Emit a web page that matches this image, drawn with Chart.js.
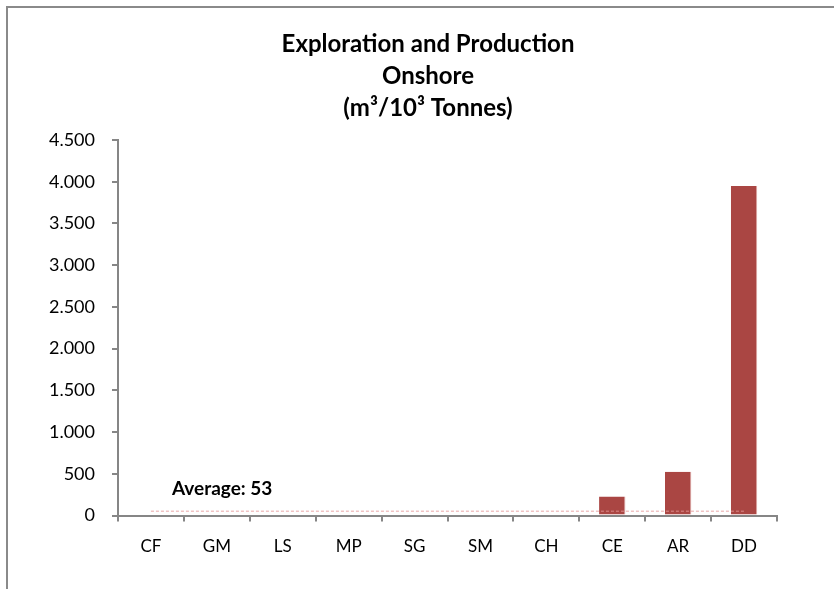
<!DOCTYPE html>
<html>
<head>
<meta charset="utf-8">
<script src="https://cdn.jsdelivr.net/npm/chart.js@4"></script>
<style>
  html, body { margin: 0; padding: 0; background: #fff; overflow: hidden; }
  #frame { position: absolute; left: 6px; top: 6px; width: 900px; height: 700px; border: 2px solid #8a8a8a; }
  #chart { position: absolute; left: 0; top: 0; }
</style>
</head>
<body>
<div id="frame"></div>
<canvas id="chart" width="834" height="589"></canvas>
<script>
// Onshore exploration & production, m3 per 10^3 tonnes
const categories = ['CF', 'GM', 'LS', 'MP', 'SG', 'SM', 'CH', 'CE', 'AR', 'DD'];
const values = [0, 0, 0, 0, 0, 0, 0, 230, 525, 3950];
const averageValue = 53;
const averageLabel = 'Average: ' + averageValue;
const titleLines = ['Exploration and Production', 'Onshore', '(m\u00B3/10\u00B3 Tonnes)'];
const yMin = 0, yMax = 4500, yStep = 500;

const FONT = 'Lato';
const AXIS_GREY = '#868686';

function thousands(v) {
  return String(v).replace(/\B(?=(\d{3})+(?!\d))/g, '.');
}

// writes the "Average: 53" note just above the average line
const averageNote = {
  id: 'averageNote',
  afterDatasetsDraw(chart) {
    const xs = chart.scales.x, ys = chart.scales.y;
    const ctx = chart.ctx;
    ctx.save();
    ctx.font = 'bold 19px ' + FONT;
    ctx.fillStyle = '#000';
    ctx.textAlign = 'left';
    ctx.textBaseline = 'middle';
    ctx.fillText(averageLabel, xs.getPixelForValue(0) + 21, ys.getPixelForValue(averageValue) - 22);
    ctx.restore();
  }
};

Chart.defaults.font.family = FONT;
Chart.defaults.color = '#000';

new Chart(document.getElementById('chart'), {
  data: {
    labels: categories,
    datasets: [
      {
        type: 'line',
        data: categories.map(() => averageValue),
        borderColor: 'rgba(228,150,150,0.85)',
        borderWidth: 1,
        borderDash: [3, 2],
        pointRadius: 0,
        fill: false,
        order: 0
      },
      {
        type: 'bar',
        data: values,
        backgroundColor: '#AA4643',
        borderColor: '#dca6a4',
        borderWidth: { top: 0, right: 1, bottom: 0, left: 0 },
        borderSkipped: false,
        barPercentage: 0.4,
        categoryPercentage: 1.0,
        order: 1
      }
    ]
  },
  options: {
    responsive: false,
    animation: false,
    devicePixelRatio: 1,
    layout: { padding: { left: 40, right: 18, top: 18, bottom: 17 } },
    plugins: {
      legend: { display: false },
      tooltip: { enabled: false },
      title: {
        display: true,
        text: titleLines,
        color: '#000',
        font: { family: FONT, size: 24, weight: 'bold', lineHeight: 1.333 },
        padding: { top: 10, bottom: 16 }
      }
    },
    scales: {
      x: {
        grid: { offset: true, drawOnChartArea: false, tickLength: 6, color: AXIS_GREY, lineWidth: 2 },
        border: { color: AXIS_GREY, width: 2 },
        ticks: { padding: 15, font: { size: 17 }, color: '#000' }
      },
      y: {
        min: yMin,
        max: yMax,
        afterFit(scale) { scale.width = 78; },
        grid: { drawOnChartArea: false, tickLength: 6, color: AXIS_GREY, lineWidth: 2 },
        border: { color: AXIS_GREY, width: 2 },
        ticks: { stepSize: yStep, padding: 17, font: { size: 18 }, color: '#000', callback: (v) => thousands(v) }
      },
      // empty right-hand spacer keeps the plot's right edge in place
      spacer: {
        type: 'linear',
        position: 'right',
        afterFit(scale) { scale.width = 39; },
        grid: { display: false },
        border: { display: false },
        ticks: { display: false }
      }
    }
  },
  plugins: [averageNote]
});
</script>
</body>
</html>
